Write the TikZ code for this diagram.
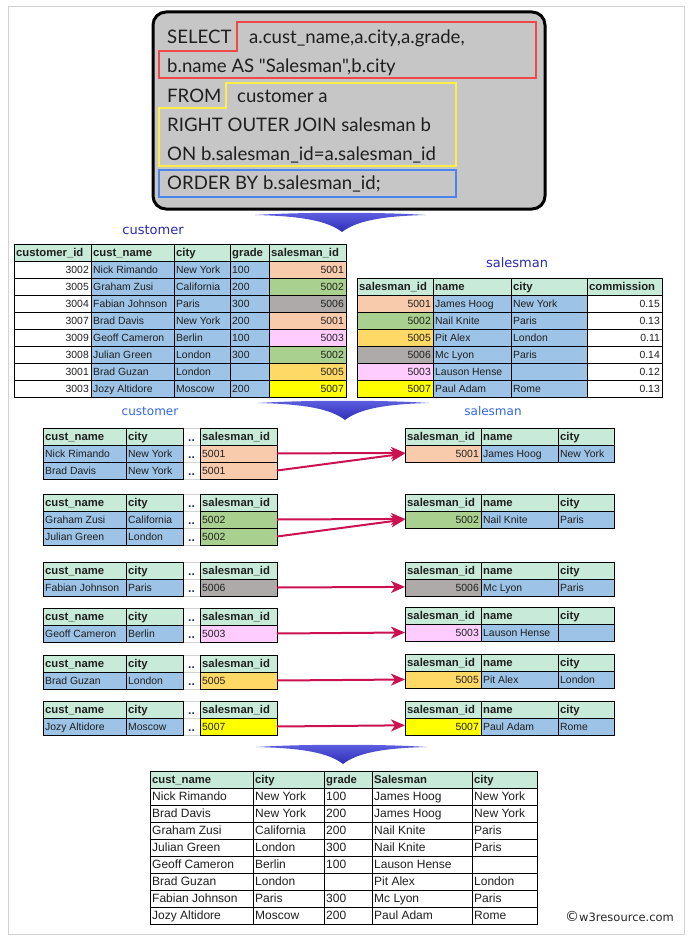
\documentclass[tikz,border=0pt]{standalone}
\usepackage{fontspec}
\setmainfont{Liberation Sans}
\newfontfamily\sqlfont{Lato}
\newfontfamily\ttlfont{DejaVu Sans}
\usetikzlibrary{arrows.meta}
\definecolor{hdr}{HTML}{C8EAD8}
\definecolor{blu}{HTML}{9DC3E6}
\definecolor{wht}{HTML}{FFFFFF}
\definecolor{ca}{HTML}{F8CBAD}
\definecolor{cb}{HTML}{A9D08E}
\definecolor{cf}{HTML}{AEAAAA}
\definecolor{cc}{HTML}{FFCCFF}
\definecolor{ce}{HTML}{FFD966}
\definecolor{cg}{HTML}{FFFF00}
\definecolor{sqlgray}{HTML}{C6C6C6}
\definecolor{redo}{HTML}{F04848}
\definecolor{yelo}{HTML}{FFEE48}
\definecolor{bluo}{HTML}{4C84EE}
\definecolor{crim}{HTML}{CC1150}
\definecolor{ttla}{HTML}{2B2BB0}
\definecolor{ttlb}{HTML}{2F66E6}
\definecolor{dotc}{HTML}{1F3864}

% row of table cells: [font style]{prefix}{ytop}{xa/xb/fill/align/text,...}
\newcommand{\trow}[4][dfont]{%
  \foreach \xa/\xb/\fc/\al/\tx [count=\k] in {#4}{%
    \path[cellbox, fill=\fc] (\xa,#3) rectangle (\xb,{#3+17});
    \coordinate (#2-\k-w) at (\xa,{#3+8.5});
    \coordinate (#2-\k-e) at (\xb,{#3+8.5});
    \node[ctext, #1, cal\al] (#2-\k) at ({\xa+\al*(\xb-\xa)},{#3+8.5}) {\tx};
  }}
\newcommand{\dotcell}[2]{%
  \path[draw=gray!35, line width=1pt, fill=white] (183,#2) rectangle (200,{#2+17});
  \node[dots] (#1) at (191.5,{#2+13}) {..};}
\newcommand{\chev}[3]{%
  \shade[top color={rgb,255:red,95;green,95;blue,225}, middle color={rgb,255:red,20;green,20;blue,128}, bottom color={rgb,255:red,45;green,45;blue,185}]
    (#1-87,#2+1) .. controls (#1-40,#2+2) and (#1-14,#2+7) .. (#1,#2+18)
    .. controls (#1+14,#2+7) and (#1+40,#2+2) .. (#1+84,#2+1)
    .. controls (#1+40,#2-2) and (#1-40,#2-2) .. cycle;
  \coordinate (#3) at (#1,#2+18);}

\begin{document}
\begin{tikzpicture}[x=1pt,y=-1pt,
  cellbox/.style={draw=black, line width=1pt},
  ctext/.style={inner sep=0pt, text height=8.5pt, text depth=1pt, text=black!88},
  dfont/.style={font=\fontsize{10.4}{12}\selectfont},
  bfont/.style={font=\fontsize{12}{14}\selectfont},
  hfont/.style={font=\bfseries\fontsize{11.3}{13}\selectfont},
  cal0/.style={anchor=west, xshift=2pt},
  cal1/.style={anchor=east, xshift=-2pt},
  dots/.style={inner sep=0pt, font=\bfseries\fontsize{12}{12}\selectfont, text=dotc},
  sql/.style={font=\sqlfont\fontsize{18.6}{20}\selectfont, anchor=base west, inner sep=0pt, text=black!88},
  ttlA/.style={font=\ttlfont\fontsize{13}{15}\selectfont, text=ttla, inner sep=0pt},
  ttlB/.style={font=\ttlfont\fontsize{12}{14}\selectfont, text=ttlb, inner sep=0pt},
  conn/.style={draw=crim, line width=2pt, -{Stealth[length=14pt, width=12pt, inset=4pt]}}
]
\useasboundingbox (0,0) rectangle (689,942);
\fill[white] (0,0) rectangle (689,942);
\draw[gray!35, line width=1pt] (8,7) rectangle (684,934);

% ---------- SQL box ----------
\draw[line width=3pt, rounded corners=13pt, fill=sqlgray] (153,12) rectangle (545,209);
\draw[redo, line width=1.6pt] (237,22) -- (536,22) -- (536,78) -- (159,78) -- (159,51) -- (237,51) -- cycle;
\draw[yelo, line width=1.6pt] (226,83) -- (456,83) -- (456,166) -- (159,166) -- (159,108) -- (226,108) -- cycle;
\draw[bluo, line width=1.6pt] (159,170) rectangle (456,197);
\node[sql] (q1) at (167,44) {SELECT};
\node[sql] (q2) at (249,44) {a.cust\_name,a.city,a.grade,};
\node[sql] (q3) at (167,73) {b.name AS "Salesman",b.city};
\node[sql] (q4) at (167,102) {FROM};
\node[sql] (q5) at (237,102) {customer a};
\node[sql] (q6) at (167,131) {RIGHT OUTER JOIN salesman b};
\node[sql] (q7) at (167,160) {ON b.salesman\_id=a.salesman\_id};
\node[sql] (q8) at (167,189) {ORDER BY b.salesman\_id;};

\chev{342}{214}{chA}

% ---------- customer table ----------
\node[ttlA] (tcust) at (153,230) {customer};
\trow[hfont]{ch}{244}{14/91/hdr/0/customer\_id, 91/174/hdr/0/cust\_name, 174/230/hdr/0/city, 230/269/hdr/0/grade, 269/346/hdr/0/salesman\_id}
\trow{cr1}{261}{14/91/wht/1/3002, 91/174/blu/0/Nick Rimando, 174/230/blu/0/New York, 230/269/blu/0/100, 269/346/ca/1/5001}
\trow{cr2}{278}{14/91/wht/1/3005, 91/174/blu/0/Graham Zusi, 174/230/blu/0/California, 230/269/blu/0/200, 269/346/cb/1/5002}
\trow{cr3}{295}{14/91/wht/1/3004, 91/174/blu/0/Fabian Johnson, 174/230/blu/0/Paris, 230/269/blu/0/300, 269/346/cf/1/5006}
\trow{cr4}{312}{14/91/wht/1/3007, 91/174/blu/0/Brad Davis, 174/230/blu/0/New York, 230/269/blu/0/200, 269/346/ca/1/5001}
\trow{cr5}{329}{14/91/wht/1/3009, 91/174/blu/0/Geoff Cameron, 174/230/blu/0/Berlin, 230/269/blu/0/100, 269/346/cc/1/5003}
\trow{cr6}{346}{14/91/wht/1/3008, 91/174/blu/0/Julian Green, 174/230/blu/0/London, 230/269/blu/0/300, 269/346/cb/1/5002}
\trow{cr7}{363}{14/91/wht/1/3001, 91/174/blu/0/Brad Guzan, 174/230/blu/0/London, 230/269/blu/0/{}, 269/346/ce/1/5005}
\trow{cr8}{380}{14/91/wht/1/3003, 91/174/blu/0/Jozy Altidore, 174/230/blu/0/Moscow, 230/269/blu/0/200, 269/346/cg/1/5007}

% ---------- salesman table ----------
\node[ttlA] (tsale) at (517,263) {salesman};
\trow[hfont]{sh}{278}{357/433/hdr/0/salesman\_id, 433/511/hdr/0/name, 511/587/hdr/0/city, 587/662/hdr/0/commission}
\trow{sr1}{295}{357/433/ca/1/5001, 433/511/blu/0/James Hoog, 511/587/blu/0/New York, 587/662/wht/1/0.15}
\trow{sr2}{312}{357/433/cb/1/5002, 433/511/blu/0/Nail Knite, 511/587/blu/0/Paris, 587/662/wht/1/0.13}
\trow{sr3}{329}{357/433/ce/1/5005, 433/511/blu/0/Pit Alex, 511/587/blu/0/London, 587/662/wht/1/0.11}
\trow{sr4}{346}{357/433/cf/1/5006, 433/511/blu/0/Mc Lyon, 511/587/blu/0/Paris, 587/662/wht/1/0.14}
\trow{sr5}{363}{357/433/cc/1/5003, 433/511/blu/0/Lauson Hense, 511/587/blu/0/{}, 587/662/wht/1/0.12}
\trow{sr6}{380}{357/433/cg/1/5007, 433/511/blu/0/Paul Adam, 511/587/blu/0/Rome, 587/662/wht/1/0.13}

\chev{345}{402}{chB}

% ---------- middle groups ----------
\node[ttlB] (mcust) at (150,411) {customer};
\node[ttlB] (msale) at (493,411) {salesman};

% group 1
\dotcell{g1h-d}{428}\dotcell{g1a-d}{445}\dotcell{g1b-d}{462}
\trow[hfont]{g1h}{428}{43/126/hdr/0/cust\_name, 126/183/hdr/0/city, 200/277/hdr/0/salesman\_id}
\trow{g1a}{445}{43/126/blu/0/Nick Rimando, 126/183/blu/0/New York, 200/277/ca/0/5001}
\trow{g1b}{462}{43/126/blu/0/Brad Davis, 126/183/blu/0/New York, 200/277/ca/0/5001}
\trow[hfont]{s1h}{428}{405/481/hdr/0/salesman\_id, 481/558/hdr/0/name, 558/614/hdr/0/city}
\trow{s1a}{445}{405/481/ca/1/5001, 481/558/blu/0/James Hoog, 558/614/blu/0/New York}

% group 2
\dotcell{g2h-d}{494}\dotcell{g2a-d}{511}\dotcell{g2b-d}{528}
\trow[hfont]{g2h}{494}{43/126/hdr/0/cust\_name, 126/183/hdr/0/city, 200/277/hdr/0/salesman\_id}
\trow{g2a}{511}{43/126/blu/0/Graham Zusi, 126/183/blu/0/California, 200/277/cb/0/5002}
\trow{g2b}{528}{43/126/blu/0/Julian Green, 126/183/blu/0/London, 200/277/cb/0/5002}
\trow[hfont]{s2h}{494}{405/481/hdr/0/salesman\_id, 481/558/hdr/0/name, 558/614/hdr/0/city}
\trow{s2a}{511}{405/481/cb/1/5002, 481/558/blu/0/Nail Knite, 558/614/blu/0/Paris}

% group 3
\dotcell{g3h-d}{562}\dotcell{g3a-d}{579}
\trow[hfont]{g3h}{562}{43/126/hdr/0/cust\_name, 126/183/hdr/0/city, 200/277/hdr/0/salesman\_id}
\trow{g3a}{579}{43/126/blu/0/Fabian Johnson, 126/183/blu/0/Paris, 200/277/cf/0/5006}
\trow[hfont]{s3h}{562}{405/481/hdr/0/salesman\_id, 481/558/hdr/0/name, 558/614/hdr/0/city}
\trow{s3a}{579}{405/481/cf/1/5006, 481/558/blu/0/Mc Lyon, 558/614/blu/0/Paris}

% group 4
\dotcell{g4h-d}{608}\dotcell{g4a-d}{625}
\trow[hfont]{g4h}{608}{43/126/hdr/0/cust\_name, 126/183/hdr/0/city, 200/277/hdr/0/salesman\_id}
\trow{g4a}{625}{43/126/blu/0/Geoff Cameron, 126/183/blu/0/Berlin, 200/277/cc/0/5003}
\trow[hfont]{s4h}{607}{405/481/hdr/0/salesman\_id, 481/558/hdr/0/name, 558/614/hdr/0/city}
\trow{s4a}{624}{405/481/cc/1/5003, 481/558/blu/0/Lauson Hense, 558/614/blu/0/{}}

% group 5
\dotcell{g5h-d}{655}\dotcell{g5a-d}{672}
\trow[hfont]{g5h}{655}{43/126/hdr/0/cust\_name, 126/183/hdr/0/city, 200/277/hdr/0/salesman\_id}
\trow{g5a}{672}{43/126/blu/0/Brad Guzan, 126/183/blu/0/London, 200/277/ce/0/5005}
\trow[hfont]{s5h}{654}{405/481/hdr/0/salesman\_id, 481/558/hdr/0/name, 558/614/hdr/0/city}
\trow{s5a}{671}{405/481/ce/1/5005, 481/558/blu/0/Pit Alex, 558/614/blu/0/London}

% group 6
\dotcell{g6h-d}{701}\dotcell{g6a-d}{718}
\trow[hfont]{g6h}{701}{43/126/hdr/0/cust\_name, 126/183/hdr/0/city, 200/277/hdr/0/salesman\_id}
\trow{g6a}{718}{43/126/blu/0/Jozy Altidore, 126/183/blu/0/Moscow, 200/277/cg/0/5007}
\trow[hfont]{s6h}{701}{405/481/hdr/0/salesman\_id, 481/558/hdr/0/name, 558/614/hdr/0/city}
\trow{s6a}{718}{405/481/cg/1/5007, 481/558/blu/0/Paul Adam, 558/614/blu/0/Rome}

% connectors
\draw[conn] (g1a-3-e) -- ([yshift=0.6pt]s1a-1-w);
\draw[conn] (g1b-3-e) -- (s1a-1-w);
\draw[conn] (g2a-3-e) -- ([yshift=0.6pt]s2a-1-w);
\draw[conn] (g2b-3-e) -- (s2a-1-w);
\draw[conn] (g3a-3-e) -- ([yshift=0.6pt]s3a-1-w);
\draw[conn] (g4a-3-e) -- (s4a-1-w);
\draw[conn] (g5a-3-e) -- (s5a-1-w);
\draw[conn] (g6a-3-e) -- ([yshift=1.2pt]s6a-1-w);

\chev{343}{746}{chC}

% ---------- result table ----------
\trow[hfont]{rh}{771}{150/253/hdr/0/cust\_name, 253/324/hdr/0/city, 324/372/hdr/0/grade, 372/472/hdr/0/Salesman, 472/537/hdr/0/city}
\trow[bfont]{rr1}{788}{150/253/wht/0/Nick Rimando, 253/324/wht/0/New York, 324/372/wht/0/100, 372/472/wht/0/James Hoog, 472/537/wht/0/New York}
\trow[bfont]{rr2}{805}{150/253/wht/0/Brad Davis, 253/324/wht/0/New York, 324/372/wht/0/200, 372/472/wht/0/James Hoog, 472/537/wht/0/New York}
\trow[bfont]{rr3}{822}{150/253/wht/0/Graham Zusi, 253/324/wht/0/California, 324/372/wht/0/200, 372/472/wht/0/Nail Knite, 472/537/wht/0/Paris}
\trow[bfont]{rr4}{839}{150/253/wht/0/Julian Green, 253/324/wht/0/London, 324/372/wht/0/300, 372/472/wht/0/Nail Knite, 472/537/wht/0/Paris}
\trow[bfont]{rr5}{856}{150/253/wht/0/Geoff Cameron, 253/324/wht/0/Berlin, 324/372/wht/0/100, 372/472/wht/0/Lauson Hense, 472/537/wht/0/{}}
\trow[bfont]{rr6}{873}{150/253/wht/0/Brad Guzan, 253/324/wht/0/London, 324/372/wht/0/{}, 372/472/wht/0/Pit Alex, 472/537/wht/0/London}
\trow[bfont]{rr7}{890}{150/253/wht/0/Fabian Johnson, 253/324/wht/0/Paris, 324/372/wht/0/300, 372/472/wht/0/Mc Lyon, 472/537/wht/0/Paris}
\trow[bfont]{rr8}{907}{150/253/wht/0/Jozy Altidore, 253/324/wht/0/Moscow, 324/372/wht/0/200, 372/472/wht/0/Paul Adam, 472/537/wht/0/Rome}

% watermark
\node[font=\ttlfont\fontsize{11.5}{13}\selectfont, anchor=west, inner sep=0pt, text=black!85] (wm) at (565,916) {{\fontsize{14}{14}\selectfont\char"00A9}w3resource.com};
\end{tikzpicture}
\end{document}
